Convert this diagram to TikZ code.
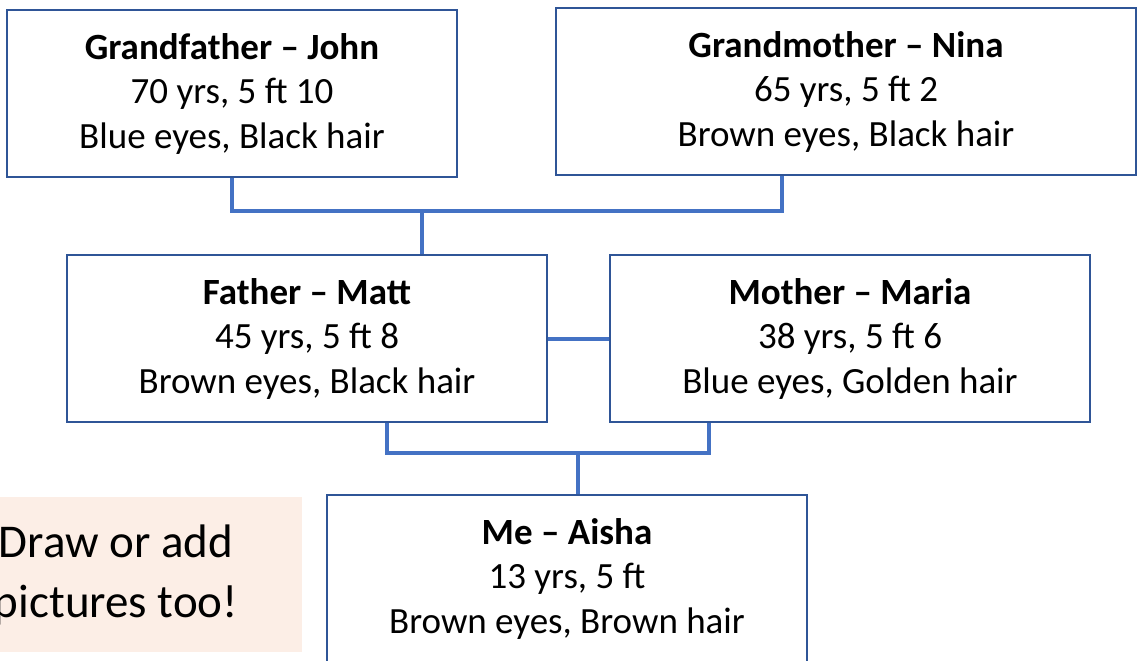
\documentclass[tikz,border=0pt]{standalone}
\usepackage{fontspec}
\setmainfont{Carlito}
\usetikzlibrary{calc}

\definecolor{boxblue}{HTML}{2F5597}
\definecolor{linkblue}{HTML}{4472C4}
\definecolor{notepink}{HTML}{FCEEE6}

\begin{document}
\begin{tikzpicture}
    \tikzset{
        person/.style={draw=boxblue, line width=1.25pt, align=center, inner sep=0pt,
            minimum height=83.5pt, font=\fontsize{18.5}{22.25}\selectfont},
        link/.style={draw=linkblue, line width=2pt}
    }

    % 1. page frame
    \useasboundingbox (0,0) rectangle (571pt,-330pt);

    % 2. grandparents
    \node[person, minimum width=225pt] (GF) at (116pt,-46.75pt)
        {\textbf{Grandfather -- John}\\70 yrs, 5 ft 10\\Blue eyes, Black hair};
    \node[person, minimum width=290pt] (GM) at (423pt,-45.75pt)
        {\textbf{Grandmother -- Nina}\\65 yrs, 5 ft 2\\Brown eyes, Black hair};

    % 3. parents
    \node[person, minimum width=240pt] (Father) at (153.5pt,-169.25pt)
        {\textbf{Father -- Matt}\\45 yrs, 5 ft 8\\Brown eyes, Black hair};
    \node[person, minimum width=240pt] (Mother) at (425pt,-169.25pt)
        {\textbf{Mother -- Maria}\\38 yrs, 5 ft 6\\Blue eyes, Golden hair};

    % 4. child
    \node[person, minimum width=240pt] (Me) at (283.5pt,-289.25pt)
        {\textbf{Me -- Aisha}\\13 yrs, 5 ft\\Brown eyes, Brown hair};

    % 5. note on the left
    \node[fill=notepink, minimum width=186pt, minimum height=77.5pt, align=center,
        font=\fontsize{23.5}{30}\selectfont] (Note) at (58pt,-287.25pt)
        {Draw or add\\pictures too!};

    % 6. connector points
    \coordinate (GBar) at (0,-105.5pt);
    \coordinate (GMLeg) at ($(GM.south west)+(113.5pt,0)$);
    \coordinate (FatherTop) at ($(Father.north west)+(178pt,0)$);
    \coordinate (PBar) at (0,-226.5pt);
    \coordinate (FatherLeg) at ($(Father.south west)+(160.5pt,0)$);
    \coordinate (MotherLeg) at ($(Mother.south west)+(50pt,0)$);
    \coordinate (MeTop) at ($(Me.north west)+(126pt,0)$);

    % 7. connectors
    \draw[link] (GF.south) |- (GBar -| GMLeg) -- (GMLeg);
    \draw[link] (FatherTop |- GBar) -- (FatherTop);
    \draw[link] (Father.east) -- (Mother.west);
    \draw[link] (FatherLeg) |- (PBar -| MotherLeg) -- (MotherLeg);
    \draw[link] (MeTop |- PBar) -- (MeTop);

\end{tikzpicture}
\end{document}
